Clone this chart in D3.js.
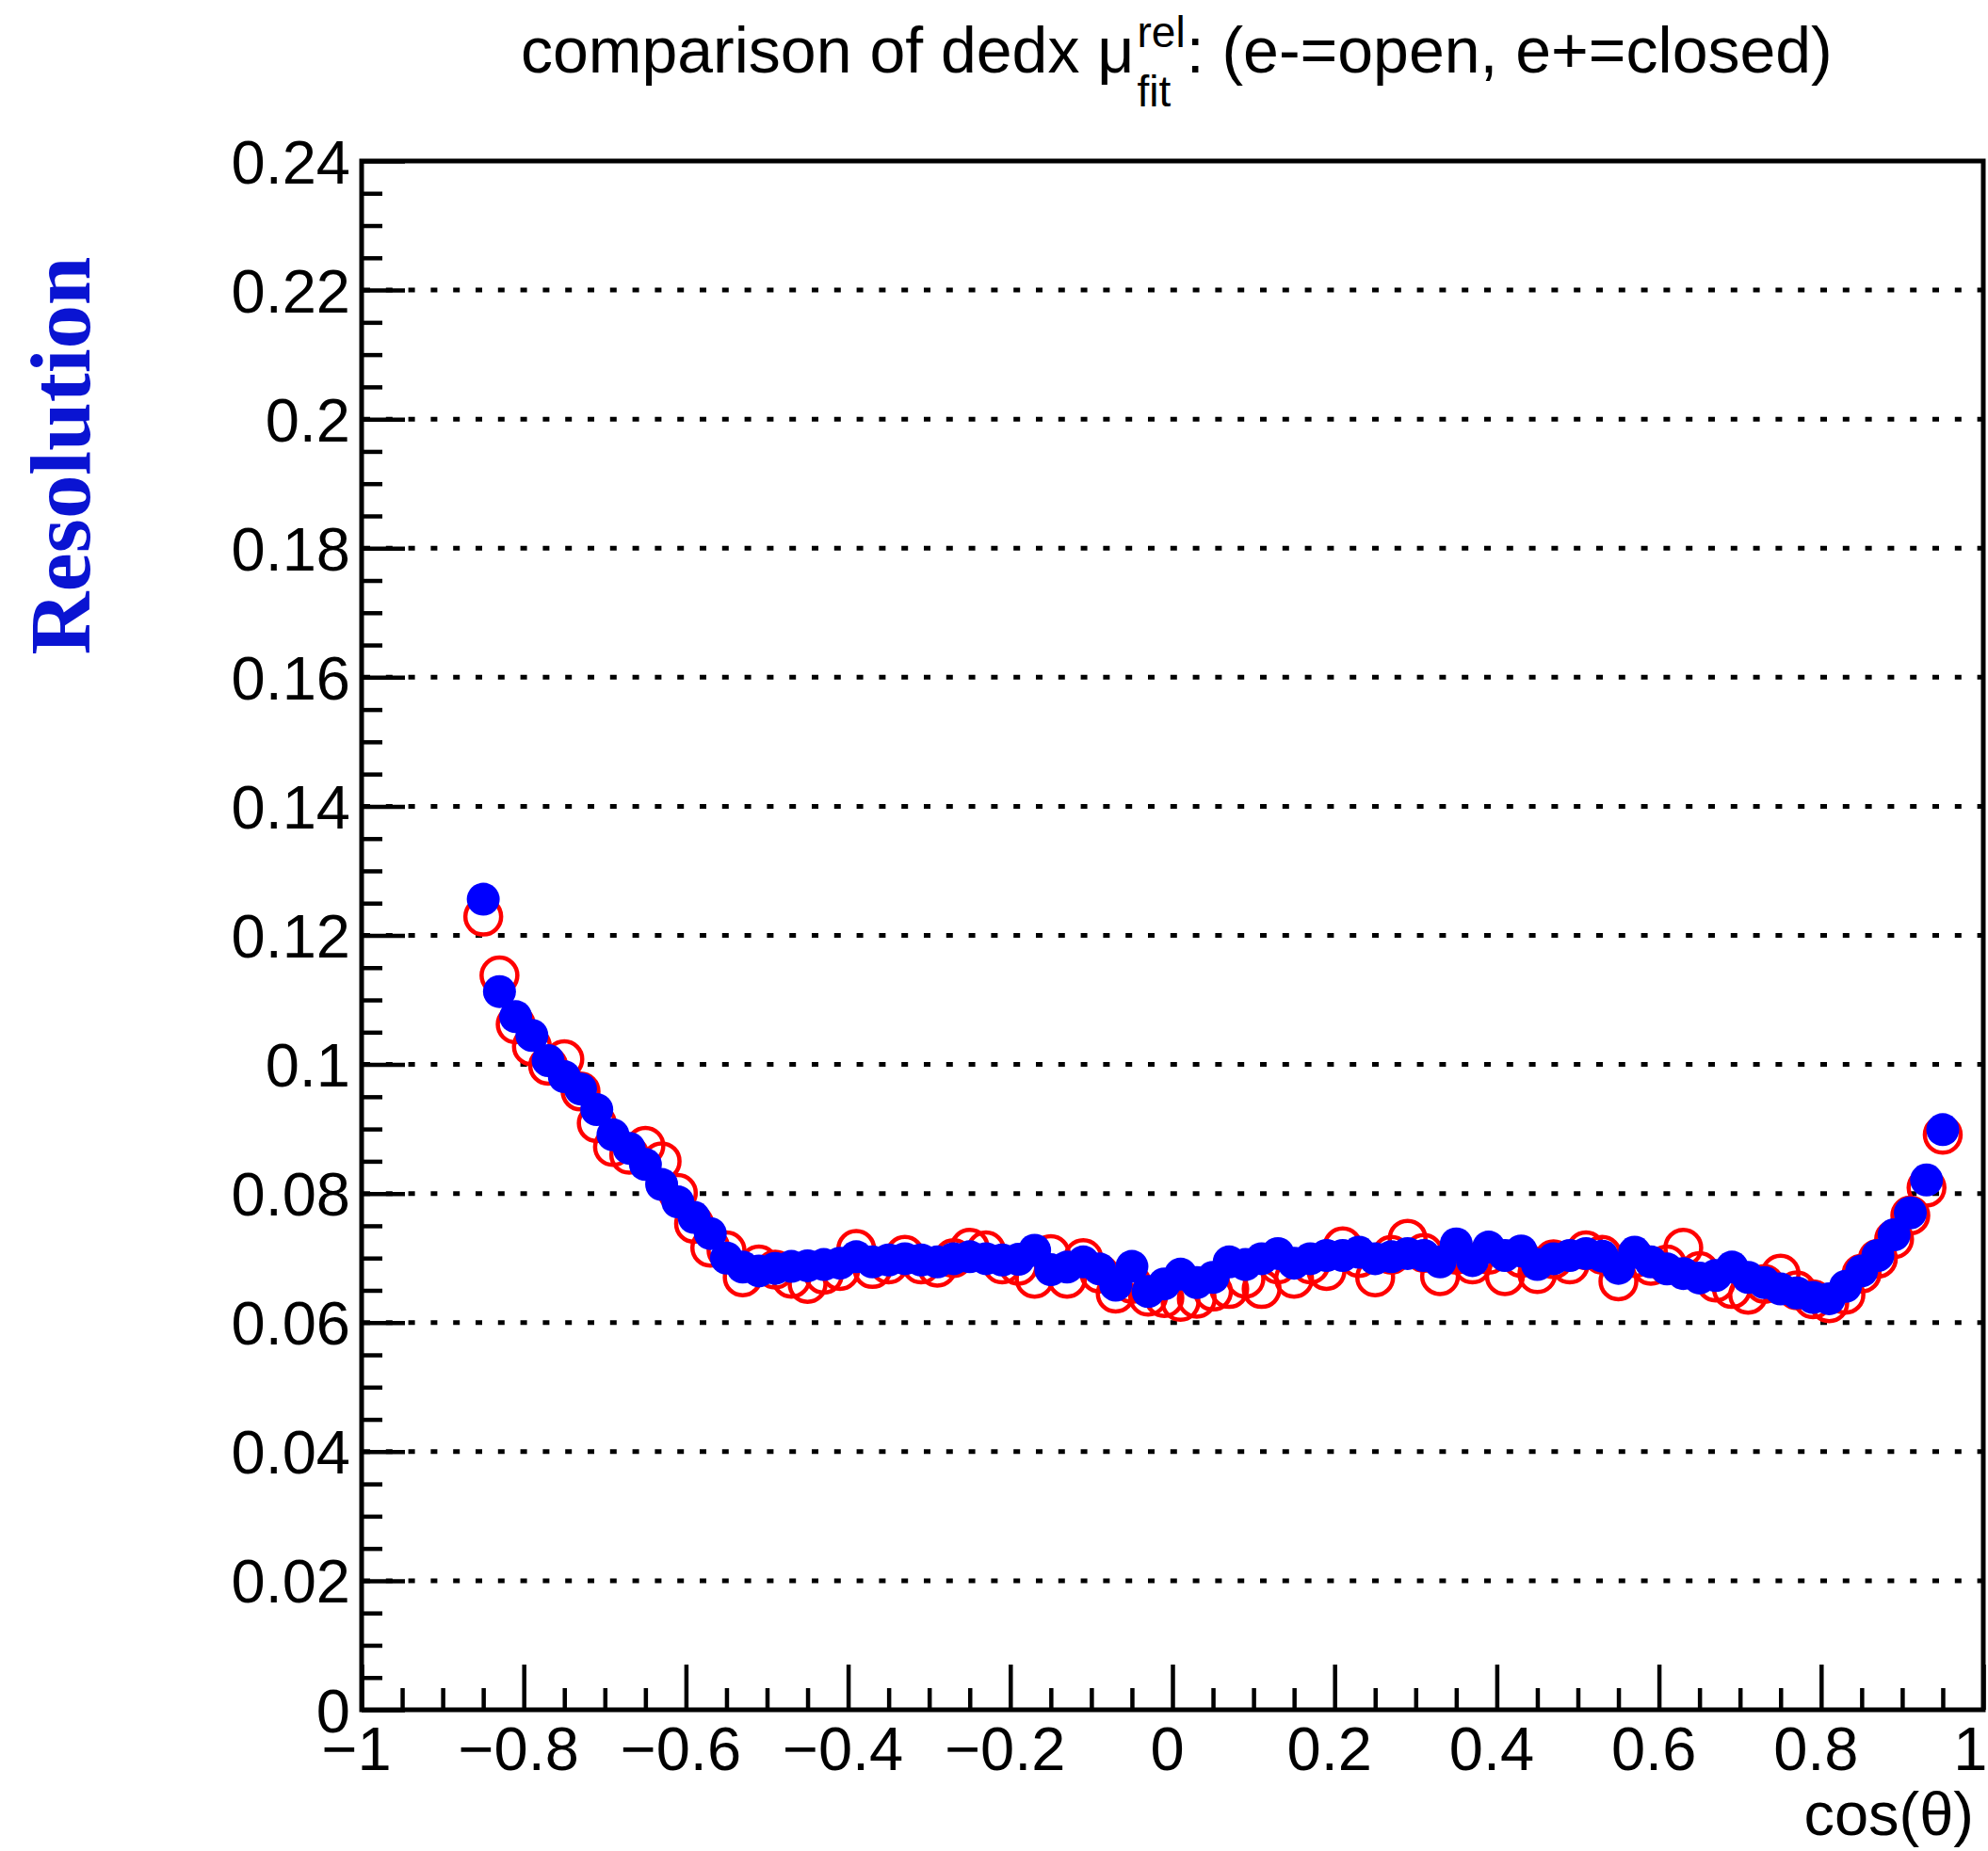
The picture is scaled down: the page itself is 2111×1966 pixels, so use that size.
<!DOCTYPE html>
<html>
<head>
<meta charset="utf-8">
<script src="https://cdn.jsdelivr.net/npm/d3@7"></script>
<style>
  html, body { margin: 0; padding: 0; background: #fff; }
  svg { display: block; }
  text { font-family: "Liberation Sans", Arial, Helvetica, sans-serif; }
</style>
</head>
<body>
<svg id="chart" width="2111" height="1966"></svg>
<script>
// ---- data ----
const cosTheta = [
  -0.85,-0.83,-0.81,-0.79,-0.77,-0.75,-0.73,-0.71,-0.69,-0.67,
  -0.65,-0.63,-0.61,-0.59,-0.57,-0.55,-0.53,-0.51,-0.49,-0.47,
  -0.45,-0.43,-0.41,-0.39,-0.37,-0.35,-0.33,-0.31,-0.29,-0.27,
  -0.25,-0.23,-0.21,-0.19,-0.17,-0.15,-0.13,-0.11,-0.09,-0.07,
  -0.05,-0.03,-0.01,0.01,0.03,0.05,0.07,0.09,0.11,0.13,
  0.15,0.17,0.19,0.21,0.23,0.25,0.27,0.29,0.31,0.33,
  0.35,0.37,0.39,0.41,0.43,0.45,0.47,0.49,0.51,0.53,
  0.55,0.57,0.59,0.61,0.63,0.65,0.67,0.69,0.71,0.73,
  0.75,0.77,0.79,0.81,0.83,0.85,0.87,0.89,0.91,0.93,
  0.95
];
// e- (open, red)
const eMinus = [
  0.1229,0.1138,0.1062,0.1028,0.0998,0.1008,0.0958,0.0909,0.0872,0.0860,
  0.0874,0.0850,0.0801,0.0753,0.0716,0.0712,0.0670,0.0690,0.0682,0.0668,
  0.0660,0.0674,0.0680,0.0714,0.0683,0.0690,0.0705,0.0690,0.0685,0.0700,
  0.0716,0.0712,0.0690,0.0688,0.0668,0.0706,0.0668,0.0700,0.0676,0.0645,
  0.0660,0.0640,0.0638,0.0632,0.0637,0.0648,0.0652,0.0668,0.0652,0.0690,
  0.0668,0.0690,0.0680,0.0718,0.0700,0.0670,0.0705,0.0730,0.0708,0.0672,
  0.0705,0.0690,0.0705,0.0672,0.0700,0.0675,0.0698,0.0690,0.0712,0.0705,
  0.0664,0.0700,0.0688,0.0690,0.0716,0.0680,0.0662,0.0652,0.0643,0.0660,
  0.0676,0.0650,0.0636,0.0630,0.0643,0.0676,0.0699,0.0729,0.0766,0.0809,
  0.0891
];
// e+ (closed, blue)
const ePlus = [
  0.1256,0.1113,0.1074,0.1045,0.1006,0.0981,0.0962,0.0930,0.0891,0.0870,
  0.0845,0.0814,0.0787,0.0763,0.0738,0.0700,0.0686,0.0680,0.0684,0.0687,
  0.0688,0.0690,0.0692,0.0702,0.0694,0.0697,0.0699,0.0697,0.0694,0.0699,
  0.0702,0.0699,0.0697,0.0698,0.0712,0.0682,0.0686,0.0694,0.0683,0.0658,
  0.0687,0.0648,0.0660,0.0675,0.0662,0.0670,0.0694,0.0690,0.0699,0.0707,
  0.0692,0.0699,0.0704,0.0704,0.0709,0.0699,0.0702,0.0707,0.0704,0.0694,
  0.0722,0.0696,0.0717,0.0704,0.0711,0.0690,0.0699,0.0704,0.0707,0.0703,
  0.0684,0.0709,0.0694,0.0683,0.0676,0.0669,0.0673,0.0686,0.0670,0.0662,
  0.0652,0.0646,0.0639,0.0637,0.0656,0.0680,0.0704,0.0736,0.0770,0.0821,
  0.0899
];
const yMajorTicks = [0,0.02,0.04,0.06,0.08,0.1,0.12,0.14,0.16,0.18,0.2,0.22,0.24];
const yTickLabels = ["0","0.02","0.04","0.06","0.08","0.1","0.12","0.14","0.16","0.18","0.2","0.22","0.24"];
const xMajorTicks = [-1,-0.8,-0.6,-0.4,-0.2,0,0.2,0.4,0.6,0.8,1];
const xTickLabels = ["\u22121","\u22120.8","\u22120.6","\u22120.4","\u22120.2","0","0.2","0.4","0.6","0.8","1"];
const gridValues = [0.02,0.04,0.06,0.08,0.1,0.12,0.14,0.16,0.18,0.2,0.22];

// ---- layout ----
const X0 = 384, X1 = 2106, Y0 = 1816, Y1 = 171;
const W = 2111;
const svg = d3.select("#chart");
const x = d3.scaleLinear().domain([-1, 1]).range([X0, X1]);
const y = d3.scaleLinear().domain([0, 0.24]).range([Y0, Y1]);

const yMinor = d3.range(0, 0.2400001, 0.005).filter(v => !yMajorTicks.some(m => Math.abs(m - v) < 1e-9));
const xMinor = d3.range(-1, 1.000001, 0.05).filter(v => !xMajorTicks.some(m => Math.abs(m - v) < 1e-9));

// grid
svg.append("g").selectAll("line").data(gridValues).join("line")
  .attr("x1", X0).attr("x2", X1)
  .attr("y1", d => y(d)).attr("y2", d => y(d))
  .attr("stroke", "#000").attr("stroke-width", 5)
  .attr("stroke-dasharray", "7,16.8").attr("stroke-dashoffset", -2);

// y axis major
const gy = svg.append("g").attr("transform", `translate(${X0},0)`)
  .call(d3.axisLeft(y).tickValues(yMajorTicks).tickSizeInner(-46).tickSizeOuter(0).tickPadding(12)
    .tickFormat((d, i) => yTickLabels[i]));
gy.select(".domain").remove();
gy.selectAll(".tick line").attr("stroke", "#000").attr("stroke-width", 4.5);
gy.selectAll(".tick text").attr("dy", null).attr("y", 23)
  .style("font-size", "65px").style("font-family", '"Liberation Sans", Arial, sans-serif').attr("fill", "#000");

const gym = svg.append("g").attr("transform", `translate(${X0},0)`)
  .call(d3.axisLeft(y).tickValues(yMinor).tickSizeInner(-22).tickSizeOuter(0).tickFormat(""));
gym.select(".domain").remove();
gym.selectAll(".tick line").attr("stroke", "#000").attr("stroke-width", 4.5);

// x axis major
const gx = svg.append("g").attr("transform", `translate(0,${Y0})`)
  .call(d3.axisBottom(x).tickValues(xMajorTicks).tickSizeInner(-48).tickSizeOuter(0).tickPadding(0)
    .tickFormat((d, i) => xTickLabels[i]));
gx.select(".domain").remove();
gx.selectAll(".tick line").attr("stroke", "#000").attr("stroke-width", 4.5);
gx.selectAll(".tick text").attr("dy", null).attr("y", 64).attr("x", -6)
  .style("font-size", "65px").style("font-family", '"Liberation Sans", Arial, sans-serif').attr("fill", "#000");
// keep the last label ("1") inside the page
gx.selectAll(".tick text").each(function () {
  const tx = x(d3.select(this.parentNode).datum());
  const w = this.getComputedTextLength();
  const cur = +d3.select(this).attr("x");
  if (tx + cur + w / 2 > W - 1) d3.select(this).attr("x", (W - 1) - tx - w / 2);
});

const gxm = svg.append("g").attr("transform", `translate(0,${Y0})`)
  .call(d3.axisBottom(x).tickValues(xMinor).tickSizeInner(-23).tickSizeOuter(0).tickFormat(""));
gxm.select(".domain").remove();
gxm.selectAll(".tick line").attr("stroke", "#000").attr("stroke-width", 4.5);

// frame
svg.append("rect").attr("x", X0).attr("y", Y1).attr("width", X1 - X0).attr("height", Y0 - Y1)
  .attr("fill", "none").attr("stroke", "#000").attr("stroke-width", 5);

// markers
const redData = cosTheta.map((c, i) => ({ c, v: eMinus[i] }));
const blueData = cosTheta.map((c, i) => ({ c, v: ePlus[i] }));
svg.append("g").selectAll("circle").data(redData).join("circle")
  .attr("cx", d => x(d.c)).attr("cy", d => y(d.v)).attr("r", 19)
  .attr("fill", "none").attr("stroke", "#ff0000").attr("stroke-width", 4.5);
svg.append("g").selectAll("circle").data(blueData).join("circle")
  .attr("cx", d => x(d.c)).attr("cy", d => y(d.v)).attr("r", 17.5)
  .attr("fill", "#0000ff");

// title
const tFont = 68, sFont = 46;
const t1 = svg.append("text").attr("x", 553).attr("y", 77)
  .style("font-size", tFont + "px").attr("fill", "#000").text("comparison of dedx \u03BC");
const w1 = t1.node().getComputedTextLength();
const xs = 553 + w1 + 3;
const sup = svg.append("text").attr("x", xs).attr("y", 50).style("font-size", sFont + "px").text("rel");
const sub = svg.append("text").attr("x", xs).attr("y", 113).style("font-size", sFont + "px").text("fit");
const ws = Math.max(sup.node().getComputedTextLength(), sub.node().getComputedTextLength());
svg.append("text").attr("x", xs + ws + 1).attr("y", 77)
  .style("font-size", tFont + "px").attr("fill", "#000").text(": (e-=open, e+=closed)");

// axis titles
svg.append("text").attr("x", 2096).attr("y", 1949).attr("text-anchor", "end")
  .style("font-size", "65px").text("cos(\u03B8)");
svg.append("text").attr("transform", "translate(95,484) rotate(-90)")
  .attr("text-anchor", "middle")
  .style("font-family", '"Liberation Serif", "DejaVu Serif", serif')
  .style("font-weight", "bold").style("font-size", "90px")
  .attr("fill", "#0a14d2")
  .attr("textLength", 423).attr("lengthAdjust", "spacingAndGlyphs")
  .text("Resolution");
</script>
</body>
</html>
